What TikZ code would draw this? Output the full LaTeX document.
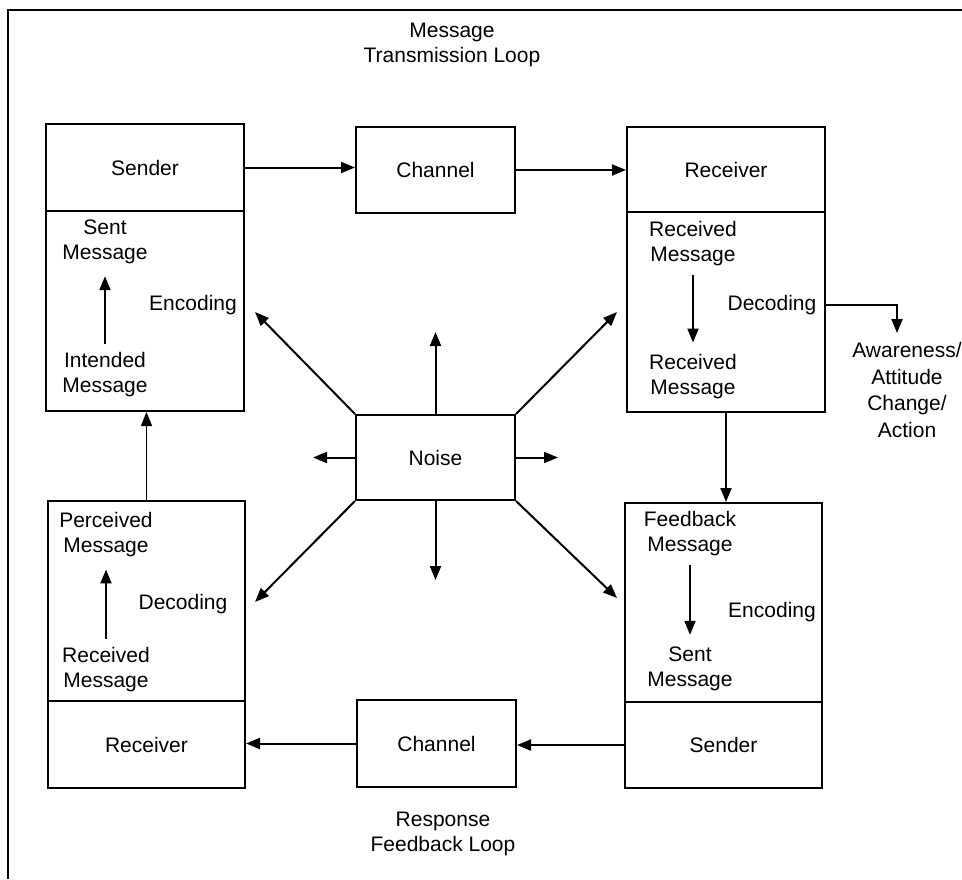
\documentclass[tikz,border=0pt]{standalone}
\usepackage{fontspec}
\setmainfont{Liberation Sans}
\usetikzlibrary{arrows.meta,calc}
\begin{document}
\begin{tikzpicture}[x=1pt,y=-1pt,
  box/.style={draw,line width=2pt,inner sep=0pt,font=\fontsize{21}{25}\selectfont},
  lbl/.style={inner sep=1pt,align=center,font=\fontsize{21}{25}\selectfont},
  arr/.style={line width=2pt,-{Triangle[length=14pt,width=11pt]}},
  thinarr/.style={line width=1.3pt,-{Triangle[length=14pt,width=11pt]}},
  inarr/.style={line width=2pt,-{Triangle[length=14pt,width=11pt]},shorten <=8pt,shorten >=11pt}]
\useasboundingbox (0,0) rectangle (962,879);
\draw[line width=2pt] (8,879) -- (8,10) -- (962,10);

% boxes
\node[box,minimum width=198pt,minimum height=87pt] (sTop) at (145,167.5) {Sender};
\node[box,minimum width=198pt,minimum height=200pt] (sBot) at (145,311) {};
\node[box,minimum width=159pt,minimum height=86pt] (ch1) at (435.5,170) {Channel};
\node[box,minimum width=198pt,minimum height=85pt] (rTop) at (726,169.5) {Receiver};
\node[box,minimum width=198pt,minimum height=200pt] (rBot) at (726,312) {};
\node[box,minimum width=159pt,minimum height=85pt] (noise) at (435.5,457.5) {Noise};
\node[box,minimum width=197pt,minimum height=200pt] (blTop) at (146.5,601) {};
\node[box,minimum width=197pt,minimum height=87pt] (blBot) at (146.5,744.5) {Receiver};
\node[box,minimum width=159pt,minimum height=87pt] (ch2) at (436.5,743.5) {Channel};
\node[box,minimum width=197pt,minimum height=199pt] (fbTop) at (723.5,602.5) {};
\node[box,minimum width=197pt,minimum height=86pt] (fbBot) at (723.5,745) {Sender};

% labels
\node[lbl] (title1) at (452,45) {Message\\Transmission Loop};
\node[lbl] (title2) at (443,834) {Response\\Feedback Loop};
\node[lbl] (sent1) at (105,242) {Sent\\Message};
\node[lbl] (enc1) at (193,305) {Encoding};
\node[lbl] (intended) at (105,375) {Intended\\Message};
\node[lbl] (recv1) at (693,244) {Received\\Message};
\node[lbl] (dec1) at (772,305) {Decoding};
\node[lbl] (recv2) at (693,377) {Received\\Message};
\node[lbl,font=\fontsize{21}{26.5}\selectfont] (aware) at (907,390) {Awareness/\\Attitude\\Change/\\Action};
\node[lbl] (perc) at (106,535) {Perceived\\Message};
\node[lbl] (dec2) at (183,604) {Decoding};
\node[lbl] (recv3) at (106,670) {Received\\Message};
\node[lbl] (fb) at (690,534) {Feedback\\Message};
\node[lbl] (enc2) at (772,612) {Encoding};
\node[lbl] (sent2) at (690,669) {Sent\\Message};

% inner arrows
\draw[inarr] (intended.north) -- (sent1.south);
\draw[inarr] (recv1.south) -- (recv2.north);
\draw[inarr] (recv3.north) -- (perc.south);
\draw[inarr] (fb.south) -- (sent2.north);

% main loop arrows
\draw[arr] (sTop.east) -- (ch1.west |- sTop.east);
\draw[arr] (ch1.east) -- (rTop.west |- ch1.east);
\draw[arr] (rBot.south) -- (fbTop.north -| rBot.south);
\draw[arr] (fbBot.west) -- (ch2.east |- fbBot.west);
\draw[arr] (ch2.west) -- (blBot.east |- ch2.west);
\draw[thinarr] (blTop.north) -- (sBot.south -| blTop.north);

% decoding outcome
\coordinate (awTip) at (897,333);
\draw[arr] (rBot.east |- dec1) -| (awTip);

% noise arrows
\coordinate (nU) at (435.5,332);
\coordinate (nUL) at (255,312);
\coordinate (nUR) at (617,312);
\coordinate (nL) at (313,457.5);
\coordinate (nR) at (558,457.5);
\coordinate (nD) at (435.5,580);
\coordinate (nDL) at (255,602);
\coordinate (nDR) at (617,598);
\draw[arr] (noise.north) -- (nU);
\draw[arr] (noise.north west) -- (nUL);
\draw[arr] (noise.north east) -- (nUR);
\draw[arr] (noise.west) -- (nL);
\draw[arr] (noise.east) -- (nR);
\draw[arr] (noise.south) -- (nD);
\draw[arr] (noise.south west) -- (nDL);
\draw[arr] (noise.south east) -- (nDR);
\end{tikzpicture}
\end{document}
